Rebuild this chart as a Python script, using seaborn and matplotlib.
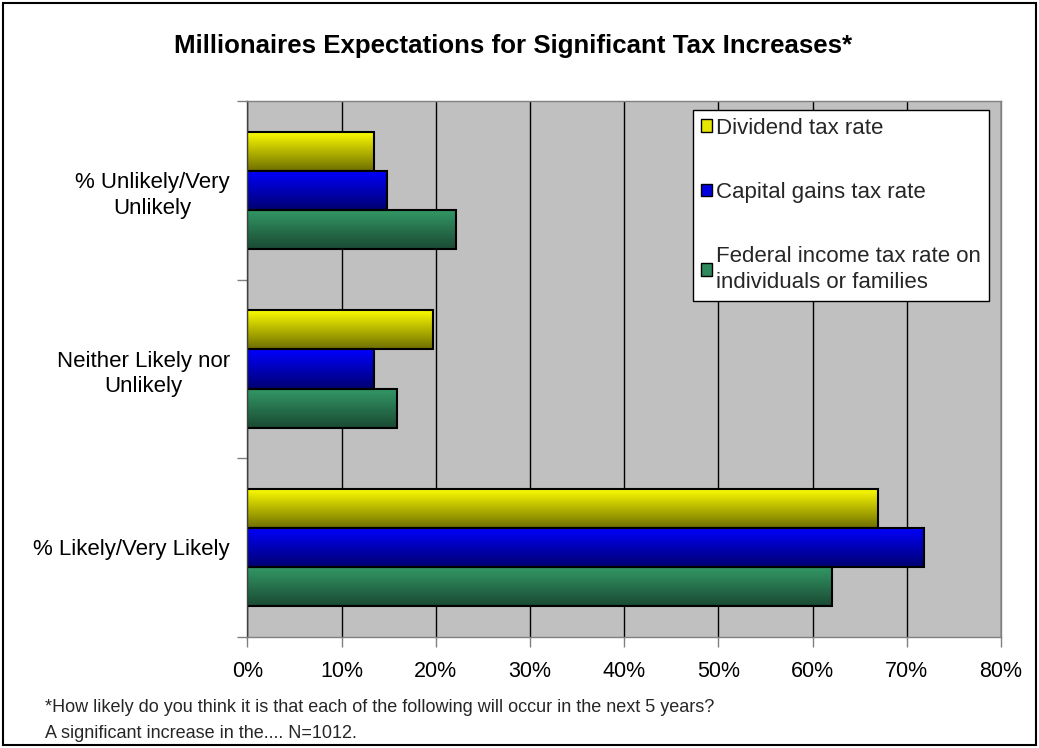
import numpy as np
import pandas as pd
import matplotlib
matplotlib.use("Agg")
import matplotlib.pyplot as plt
import seaborn as sns
from matplotlib.patches import Patch, Rectangle
from matplotlib.ticker import FixedLocator

# ---------------- data ----------------
categories = ["% Unlikely/Very\nUnlikely", "Neither Likely nor\nUnlikely", "% Likely/Very Likely"]
series = ["Dividend tax rate", "Capital gains tax rate",
          "Federal income tax rate on\nindividuals or families"]
dividend = [13.5, 19.7, 66.9]
capital_gains = [14.8, 13.5, 71.8]
federal_income = [22.1, 15.9, 62.1]
x_ticks = [0, 10, 20, 30, 40, 50, 60, 70, 80]
x_tick_labels = ["0%", "10%", "20%", "30%", "40%", "50%", "60%", "70%", "80%"]
title = "Millionaires Expectations for Significant Tax Increases*"
footnote_lines = ["*How likely do you think it is that each of the following will occur in the next 5 years?",
                  "A significant increase in the.... N=1012."]

# ---------------- style ----------------
top_colors = ["#FFFF00", "#0000FF", "#339966"]
bottom_colors = ["#6E6E00", "#000070", "#1A4A33"]
legend_colors = ["#E6E600", "#0000E0", "#2E8A5C"]

sns.set_theme(style="white")
plt.rcParams["font.family"] = ["Liberation Sans", "DejaVu Sans"]

df = pd.DataFrame({
    "category": categories * 3,
    "series": [s for s in series for _ in categories],
    "value": dividend + capital_gains + federal_income,
})

fig = plt.figure(figsize=(10.39, 7.48), dpi=100)
fig.patch.set_facecolor("white")
ax = fig.add_axes([247.3 / 1039, 1 - 636.7 / 748, (1001 - 247.3) / 1039, (636.7 - 101.3) / 748])
ax.set_facecolor("#C0C0C0")
ax.set_axisbelow(True)

sns.barplot(data=df, x="value", y="category", hue="series", order=categories,
            hue_order=series, palette=top_colors, orient="h", width=0.66,
            edgecolor="black", linewidth=1.5, saturation=1, legend=False, ax=ax)

# gradient fill clipped to each bar
def hex2rgb(h):
    h = h.lstrip("#")
    return np.array([int(h[i:i + 2], 16) for i in (0, 2, 4)]) / 255.0

for cont, tc, bc in zip(ax.containers, top_colors, bottom_colors):
    grad = np.linspace(hex2rgb(tc), hex2rgb(bc), 128)[:, None, :]
    for bar in cont:
        x0, w = bar.get_x(), bar.get_width()
        y0, h = bar.get_y(), bar.get_height()
        im = ax.imshow(grad, extent=(x0, x0 + w, y0 + h, y0), origin="upper",
                       aspect="auto", zorder=0.9, interpolation="bilinear")
        im.set_clip_path(bar)
        bar.set_facecolor("none")
        bar.set_zorder(1.0)

ax.set_xlim(0, 80)
ax.set_ylim(2.5, -0.5)
ax.grid(axis="x", color="black", linewidth=1)
ax.grid(axis="y", visible=False)
ax.set_xlabel("")
ax.set_ylabel("")

ax.set_xticks(x_ticks)
ax.set_xticklabels(x_tick_labels)
ax.tick_params(axis="x", which="major", length=7, width=1, color="#808080",
               direction="out", bottom=True, pad=10.5, labelsize=15.5, labelcolor="black")

ax.yaxis.set_minor_locator(FixedLocator([-0.5, 0.5, 1.5, 2.5]))
ax.tick_params(axis="y", which="major", length=0, pad=12.5, labelsize=16, labelcolor="black")
ax.tick_params(axis="y", which="minor", length=7, width=1, color="#808080",
               direction="out", left=True)
for lab in ax.get_yticklabels():
    lab.set_multialignment("center")
    lab.set_horizontalalignment("right")
    lab.set_linespacing(1.3)

for side in ["top", "right", "bottom"]:
    ax.spines[side].set_color("#808080")
    ax.spines[side].set_linewidth(1)
    ax.spines[side].set_visible(True)
ax.spines["left"].set_color("#404040")
ax.spines["left"].set_linewidth(1)

handles = [Patch(facecolor=c, edgecolor="black", linewidth=1) for c in legend_colors]
leg = ax.legend(handles, series, loc="upper left", bbox_to_anchor=(0.591, 0.984),
                fontsize=16, frameon=True, fancybox=False, edgecolor="black",
                framealpha=1, facecolor="white", handlelength=0.5, handleheight=0.5,
                handletextpad=0.2, labelspacing=1.95, borderpad=0.35, borderaxespad=0)
leg.get_frame().set_linewidth(1)
for t in leg.get_texts():
    t.set_linespacing(1.3)

fig.text(0.494, 1 - 46 / 748, title, ha="center", va="center", fontsize=18.6,
         fontweight="bold", color="black")
fig.text(45 / 1039, 1 - 708 / 748, footnote_lines[0], ha="left", va="center", fontsize=13)
fig.text(45 / 1039, 1 - 733 / 748, footnote_lines[1], ha="left", va="center", fontsize=13)

fig.patches.append(Rectangle((3 / 1039, 3 / 748), 1033 / 1039, 742 / 748,
                             transform=fig.transFigure, fill=False,
                             edgecolor="black", linewidth=1.5))

fig.savefig("out.png", dpi=100)
